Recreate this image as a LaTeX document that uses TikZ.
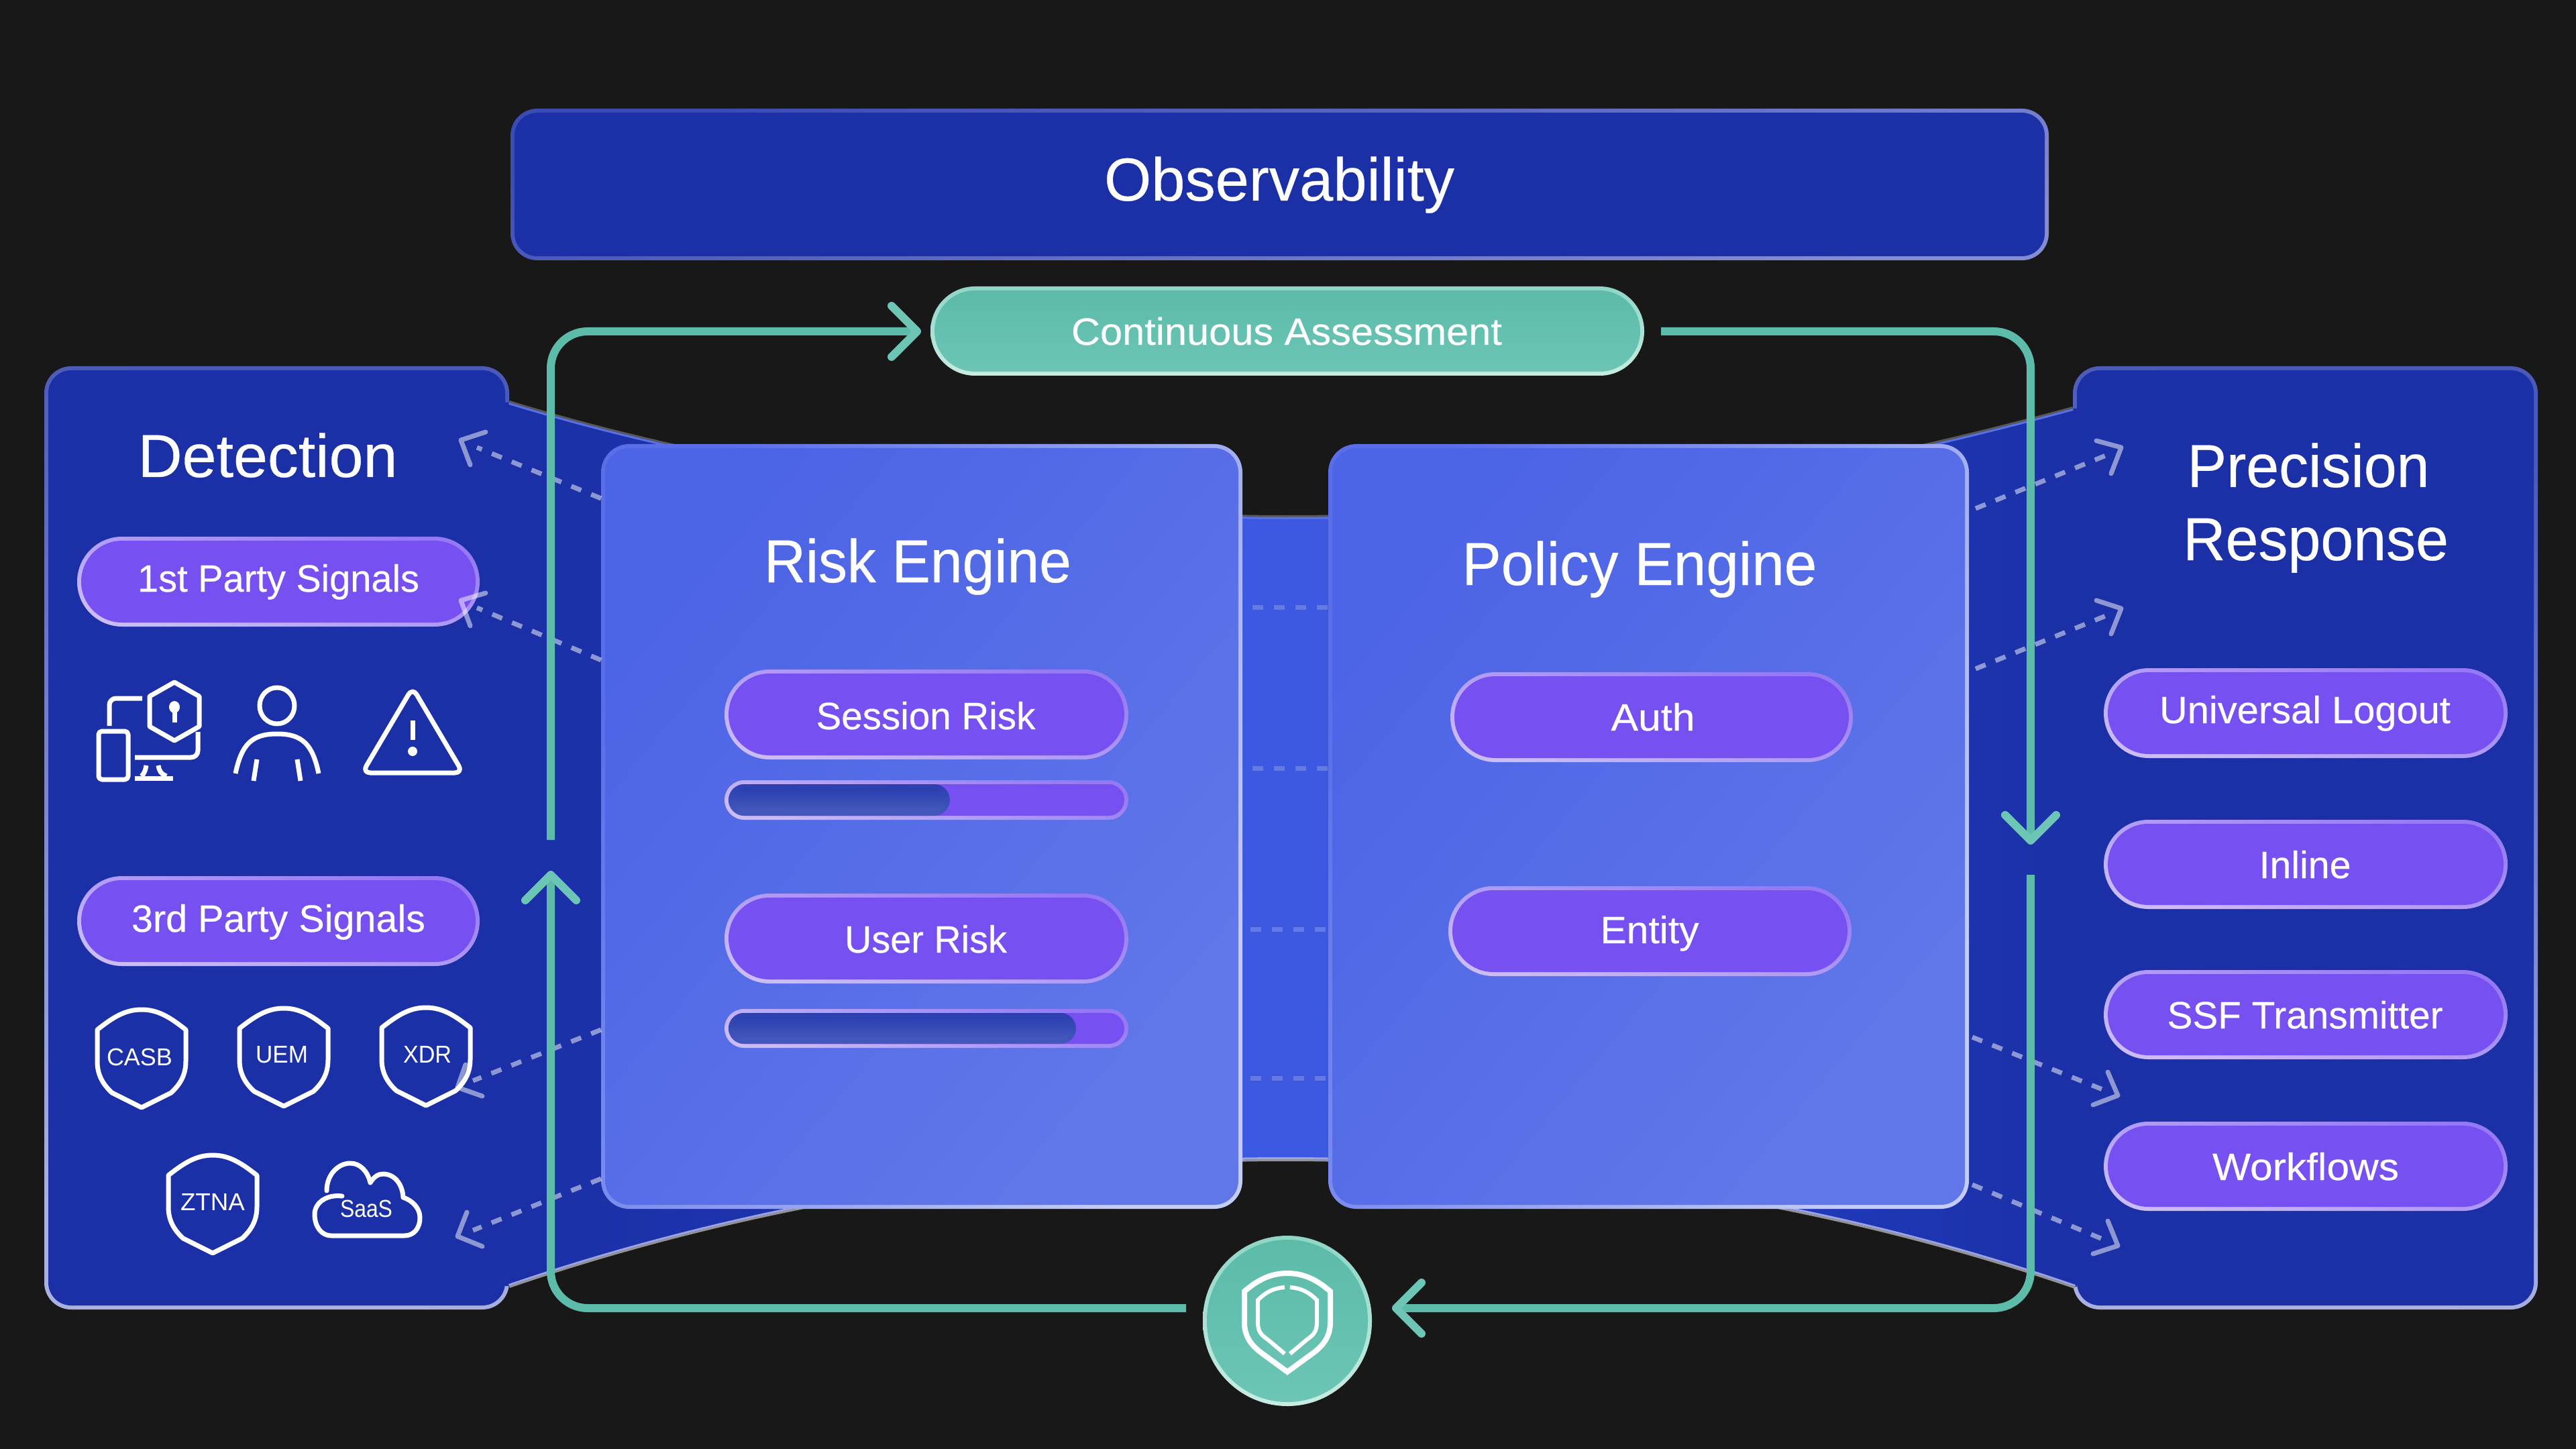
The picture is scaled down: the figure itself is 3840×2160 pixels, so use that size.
\documentclass[tikz,border=0pt]{standalone}
\usepackage{graphicx}
\usepackage{fontspec}
\setmainfont[FakeBold=0.35]{Liberation Sans}
\newfontfamily\lightf{Liberation Sans}
\usetikzlibrary{arrows.meta}
\definecolor{bgc}{HTML}{181818}
\definecolor{pnl}{HTML}{1B30A6}
\definecolor{pnla}{HTML}{1D33AC}
\definecolor{pnlb}{HTML}{2038B8}
\definecolor{midc}{HTML}{3D58E0}
\definecolor{tealc}{HTML}{5CBBA9}
\definecolor{tealh}{HTML}{6CC5B5}
\definecolor{purp}{HTML}{7750F2}
\pgfdeclarehorizontalshading{bandsh}{100bp}{color(0bp)=(pnl); color(25bp)=(pnl); color(33bp)=(pnla); color(47bp)=(midc); color(52bp)=(midc); color(67bp)=(pnlb); color(75bp)=(pnl); color(100bp)=(pnl)}
\newlength{\fwlen}
% stretch a label to its measured width (in px)
\newcommand{\fw}[2]{\settowidth{\fwlen}{#2}\pgfmathsetmacro\fwr{#1*0.25pt/\fwlen}\scalebox{\fwr}[1]{#2}}
\tikzset{
  boxnode/.style={rectangle,inner sep=0pt,outer sep=0pt},
  obsedge/.style={top color=obsa,bottom color=obsb,shading angle=15},
  detedge/.style={top color=deta,bottom color=detb,shading angle=-15},
  pilledge/.style={top color=pilla,bottom color=pillb,shading angle=-15},
  pillfill/.style={fill=purp},
  panelfill/.style={fill=pnl},
  engedge/.style={top color=enga,bottom color=engb,shading angle=65},
  engfill/.style={top color=engc,bottom color=engd,shading angle=50},
  tealedge/.style={top color=teala,bottom color=tealb},
  tealfill/.style={top color=tealc,bottom color=tealh},
  bardark/.style={top color=bara,bottom color=barb},
  hd/.style={anchor=base,text=white,inner sep=0pt,font=\fontsize{22.6}{27}\selectfont},
  pl/.style={anchor=base,text=white,inner sep=0pt,font=\fontsize{14.2}{17}\selectfont},
  sm/.style={anchor=base,text=white,inner sep=0pt,font=\lightf\fontsize{9.1}{11}\selectfont},
  icon/.style={draw=white,line width=1.75pt,line join=round},
  loopline/.style={draw=tealc,line width=3pt,rounded corners=13.75pt},
  looptip/.style={-{Straight Barb[length=9.5pt,width=19pt,line width=3pt,round,color=tealh]}},
  dashline/.style={draw=white,draw opacity=.5,line width=1.75pt,dash pattern=on 4pt off 4pt},
  dashtip/.style={draw=white,draw opacity=.5,line width=1.75pt,line cap=round,line join=round},
  middash/.style={draw=white,draw opacity=.2,line width=1.75pt,dash pattern=on 4pt off 4pt},
}
\definecolor{obsa}{HTML}{3A4BB2}\definecolor{obsb}{HTML}{848CD4}
\definecolor{deta}{HTML}{4A5AB8}\definecolor{detb}{HTML}{AAB0E0}
\definecolor{pilla}{HTML}{9578F4}\definecolor{pillb}{HTML}{CBBCF6}
\definecolor{enga}{HTML}{5A6EE8}\definecolor{engb}{HTML}{C4CCF8}
\definecolor{engc}{HTML}{4C64E6}\definecolor{engd}{HTML}{6177E9}
\definecolor{teala}{HTML}{8FD5C6}\definecolor{tealb}{HTML}{C8ECE2}
\definecolor{bara}{HTML}{2B3FB0}\definecolor{barb}{HTML}{4559BD}
% name x0 y0 x1 y1 radius edgestyle fillstyle
\newcommand{\gbox}[8]{%
  \pgfmathsetmacro\gw{(#4-#2)*0.25}\pgfmathsetmacro\gh{(#5-#3)*0.25}%
  \pgfmathsetmacro\gr{#6*0.25}\pgfmathsetmacro\gri{(#6-6)*0.25}%
  \pgfmathsetmacro\gcx{(#2+#4)/2}\pgfmathsetmacro\gcy{(#3+#5)/2}%
  \node[boxnode,minimum width=\gw pt,minimum height=\gh pt,rounded corners=\gr pt,#7] (#1-edge) at (\gcx,\gcy) {};
  \pgfmathsetmacro\giw{\gw-3}\pgfmathsetmacro\gih{\gh-3}%
  \node[boxnode,minimum width=\giw pt,minimum height=\gih pt,rounded corners=\gri pt,#8] (#1) at (\gcx,\gcy) {};
}
\newcommand{\pill}[5]{\gbox{#1}{#2}{#3}{#4}{#5}{((#5)-(#3))/2}{pilledge}{pillfill}}
\newcommand{\shieldic}[3]{%
  \begin{scope}[shift={(#2,#3)}]
    \draw[icon,miter limit=10] (0,3) .. controls (24,3) and (42,14) .. (66,33) -- (66,80)
      .. controls (66,100) and (58,114) .. (44,127) -- (0,149) -- (0,149) -- (-44,127)
      .. controls (-58,114) and (-66,100) .. (-66,80) -- (-66,33) .. controls (-42,14) and (-24,3) .. (0,3) -- cycle;
  \end{scope}}
% name start end wing tip wing
\newcommand{\dasharrow}[6]{%
  \coordinate (#1-s) at (#2); \coordinate (#1-e) at (#3);
  \coordinate (#1-a) at (#4); \coordinate (#1-t) at (#5); \coordinate (#1-b) at (#6);
  \draw[dashline] (#1-s) -- (#1-e);
  \draw[dashtip] (#1-a) -- (#1-t) -- (#1-b);
}
\begin{document}
\begin{tikzpicture}[x=0.25pt,y=-0.25pt]
\useasboundingbox (0,0) rectangle (3840,2160);
\fill[bgc] (0,0) rectangle (3840,2160);

% top box
\gbox{obs}{761}{162}{3054}{388}{40}{obsedge}{panelfill}
\node[hd] (obs-t) at (1907,299) {\fw{522}{Observability}};

% side panels
\gbox{det}{66}{546}{759}{1952}{40}{detedge}{panelfill}
\gbox{pre}{3090}{546}{3783}{1952}{40}{detedge}{panelfill}

% band between the panels
\draw[line width=1.5pt,draw=black!65!white]
  (759,600) .. controls (1050,690) and (1500,771) .. (1916,771) .. controls (2350,771) and (2700,715) .. (3090,609);
\draw[line width=1.5pt,draw=black!42!white]
  (759,1917) .. controls (1100,1800) and (1500,1728) .. (1916,1728) .. controls (2350,1728) and (2750,1800) .. (3093,1918);
\shade[shading=bandsh]
  (753,600) -- (759,600) .. controls (1050,690) and (1500,771) .. (1916,771) .. controls (2350,771) and (2700,715) .. (3090,609)
  -- (3096,609) -- (3096,1918) -- (3093,1918)
  .. controls (2750,1800) and (2350,1728) .. (1916,1728) .. controls (1500,1728) and (1100,1800) .. (759,1917) -- (753,1917) -- cycle;
\begin{scope}
  \clip (753,600) -- (759,600) .. controls (1050,690) and (1500,771) .. (1916,771) .. controls (2350,771) and (2700,715) .. (3090,609)
  -- (3096,609) -- (3096,1918) -- (3093,1918)
  .. controls (2750,1800) and (2350,1728) .. (1916,1728) .. controls (1500,1728) and (1100,1800) .. (759,1917) -- (753,1917) -- cycle;
  \draw[line width=1.5pt,draw=midc!85!white]
    (759,600) .. controls (1050,690) and (1500,771) .. (1916,771) .. controls (2350,771) and (2700,715) .. (3090,609);
  \draw[line width=1.5pt,draw=obsb!80!white]
    (759,1917) .. controls (1100,1800) and (1500,1728) .. (1916,1728) .. controls (2350,1728) and (2750,1800) .. (3093,1918);
\end{scope}

% dashes in the gap
\coordinate (g1a) at (1867,905); \coordinate (g1b) at (1980,905);
\coordinate (g2a) at (1867,1145); \coordinate (g2b) at (1980,1145);
\coordinate (g3a) at (1864,1385); \coordinate (g3b) at (1977,1385);
\coordinate (g4a) at (1864,1607); \coordinate (g4b) at (1977,1607);
\draw[middash] (g1a) -- (g1b);
\draw[middash] (g2a) -- (g2b);
\draw[middash] (g3a) -- (g3b);
\draw[middash] (g4a) -- (g4b);

% engines
\gbox{risk}{896}{662}{1852}{1802}{42}{engedge}{engfill}
\gbox{pol}{1980}{662}{2935}{1802}{42}{engedge}{engfill}
\node[hd] (risk-t) at (1368,868) {\fw{458}{Risk Engine}};
\node[hd] (pol-t) at (2444,872) {\fw{529}{Policy Engine}};

% continuous assessment
\gbox{cont}{1387}{427}{2451}{560}{66.5}{tealedge}{tealfill}
\node[pl] (cont-t) at (1918,514) {\fw{642}{Continuous Assessment}};

% pills
\pill{first}{115}{800}{715}{934}
\node[pl] (first-t) at (415,882) {\fw{420}{1st Party Signals}};
\pill{third}{115}{1306}{715}{1440}
\node[pl] (third-t) at (415,1389) {\fw{438}{3rd Party Signals}};
\pill{sess}{1080}{998}{1682}{1132}
\node[pl] (sess-t) at (1380,1087) {\fw{327}{Session Risk}};
\pill{sbar}{1080}{1163}{1682}{1222}
\gbox{sfill}{1086}{1169}{1416}{1216}{23.5}{bardark}{bardark}
\pill{user}{1080}{1332}{1682}{1466}
\node[pl] (user-t) at (1380,1420) {\fw{242}{User Risk}};
\pill{ubar}{1080}{1504}{1682}{1562}
\gbox{ufill}{1086}{1510}{1604}{1556}{23}{bardark}{bardark}
\pill{auth}{2162}{1002}{2762}{1136}
\node[pl] (auth-t) at (2464,1089) {\fw{125}{Auth}};
\pill{ent}{2159}{1321}{2760}{1455}
\node[pl] (ent-t) at (2459,1406) {\fw{147}{Entity}};
\pill{ulog}{3136}{996}{3738}{1130}
\node[pl] (ulog-t) at (3436,1078) {\fw{434}{Universal Logout}};
\pill{inl}{3136}{1222}{3738}{1355}
\node[pl] (inl-t) at (3436,1309) {\fw{137}{Inline}};
\pill{ssf}{3136}{1446}{3738}{1579}
\node[pl] (ssf-t) at (3436,1533) {\fw{411}{SSF Transmitter}};
\pill{wf}{3136}{1672}{3738}{1805}
\node[pl] (wf-t) at (3437,1759) {\fw{278}{Workflows}};

% panel titles
\node[hd] (det-t) at (399,711) {\fw{387}{Detection}};
\node[hd] (pre-t1) at (3441,726) {\fw{361}{Precision}};
\node[hd] (pre-t2) at (3452,835) {\fw{396}{Response}};

% icons: workstation
\draw[icon] (260,1017) -- (297,1038) -- (297,1083) -- (260,1104) -- (223,1083) -- (223,1038) -- cycle;
\fill[white] (260,1054) ellipse (8 and 9);
\draw[icon] (260,1054) -- (260,1077);
\draw[icon,rounded corners=2.5pt] (212,1041) -- (163,1041) -- (163,1082);
\draw[icon,rounded corners=2.5pt] (295,1091) -- (295,1129) -- (201,1129);
\draw[icon,rounded corners=1.25pt] (147,1090) rectangle (191,1162);
\draw[icon] (218,1141) .. controls (217,1148) and (215,1153) .. (211,1157);
\draw[icon] (236,1141) .. controls (237,1148) and (239,1153) .. (248,1157);
\draw[icon] (201,1160) -- (258,1160);
% icons: person
\draw[icon] (413,1052) ellipse (26 and 27);
\draw[icon] (351,1153) .. controls (360,1110) and (375,1094) .. (413,1094) .. controls (451,1094) and (466,1110) .. (475,1153);
\draw[icon] (383,1132) -- (378,1164);
\draw[icon] (443,1132) -- (448,1164);
% icons: warning
\draw[icon,rounded corners=3pt] (615,1025) -- (690,1152) -- (540,1152) -- cycle;
\draw[icon] (615,1074) -- (615,1103);
\fill[white] (615,1120) circle (7);

% shields
\shieldic{casb}{211}{1502}
\node[sm] (casb-t) at (208,1588) {\fw{98}{CASB}};
\shieldic{uem}{423}{1500}
\node[sm] (uem-t) at (420,1584) {\fw{78}{UEM}};
\shieldic{xdr}{635}{1499}
\node[sm] (xdr-t) at (637,1584) {\fw{72}{XDR}};
\shieldic{ztna}{317}{1719}
\node[sm] (ztna-t) at (317,1804) {\fw{96}{ZTNA}};
% cloud
\draw[icon,line cap=round] (487,1775) .. controls (487,1750) and (505,1734) .. (522,1734)
  .. controls (537,1734) and (548,1746) .. (552,1763) .. controls (558,1753) and (565,1750) .. (571,1750)
  .. controls (588,1750) and (600,1765) .. (601,1785) .. controls (616,1790) and (626,1802) .. (626,1815)
  .. controls (626,1832) and (616,1842) .. (603,1842) -- (494,1842)
  .. controls (478,1842) and (469,1827) .. (469,1810) .. controls (469,1793) and (487,1780) .. (510,1783);
\node[sm] (saas-t) at (546,1814) {\fw{78}{SaaS}};

% dashed arrows
\dasharrow{da1}{896,743}{711,667}{724,644}{687,656}{701,693}
\dasharrow{da2}{896,984}{711,906}{724,884}{687,895}{701,933}
\dasharrow{da3}{896,1535}{705,1611}{719,1634}{682,1621}{694,1587}
\dasharrow{da4}{896,1757}{705,1834}{719,1858}{682,1843}{696,1807}
\dasharrow{da5}{2945,758}{3139,679}{3125,657}{3162,667}{3147,706}
\dasharrow{da6}{2945,997}{3139,918}{3125,895}{3162,907}{3147,945}
\dasharrow{da7}{2940,1546}{3134,1624}{3120,1647}{3157,1633}{3142,1598}
\dasharrow{da8}{2940,1766}{3134,1847}{3120,1869}{3157,1857}{3142,1820}

% shield badge
\gbox{badge}{1793}{1842}{2045}{2096}{126}{tealedge}{tealfill}
\begin{scope}[draw=white]
  \draw[line width=2pt,miter limit=10] (1919,1898) .. controls (1940,1898) and (1960,1905) .. (1983,1925) -- (1983,1971)
    .. controls (1983,1990) and (1975,2003) .. (1960,2015) -- (1919,2045) -- (1878,2015)
    .. controls (1863,2003) and (1855,1990) .. (1855,1971) -- (1855,1925) .. controls (1878,1905) and (1898,1898) .. (1919,1898) -- cycle;
  \draw[line width=1.5pt] (1915,1919) .. controls (1900,1920) and (1888,1925) .. (1875,1938) -- (1875,1971)
    .. controls (1875,1985) and (1880,1990) .. (1890,1997) -- (1915,2018);
  \draw[line width=1.5pt] (1923,1919) .. controls (1938,1920) and (1950,1925) .. (1963,1938) -- (1963,1971)
    .. controls (1963,1985) and (1958,1990) .. (1948,1997) -- (1923,2018);
\end{scope}

% teal loop
\coordinate (lp1) at (1768,1950); \coordinate (lp2) at (821,1950); \coordinate (lp3) at (821,1298);
\coordinate (lp4) at (821,1252);  \coordinate (lp5) at (821,494);  \coordinate (lp6) at (1373,494);
\coordinate (lp7) at (2476,494);  \coordinate (lp8) at (3027,494); \coordinate (lp9) at (3027,1259);
\coordinate (lp10) at (3027,1304);\coordinate (lp11) at (3027,1950);\coordinate (lp12) at (2075,1950);
\draw[loopline,looptip] (lp1) -- (lp2) -- (lp3);
\draw[loopline,looptip] (lp4) -- (lp5) -- (lp6);
\draw[loopline,looptip] (lp7) -- (lp8) -- (lp9);
\draw[loopline,looptip] (lp10) -- (lp11) -- (lp12);
\end{tikzpicture}
\end{document}
